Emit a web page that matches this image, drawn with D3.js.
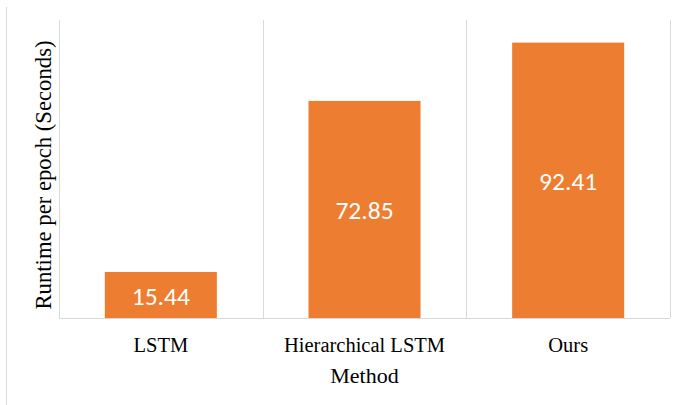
<!DOCTYPE html>
<html>
<head>
<meta charset="utf-8">
<script src="https://cdn.jsdelivr.net/npm/d3@7"></script>
<style>
	body { margin: 0; background: #fff; }
	svg { display: block; }
</style>
</head>
<body>
<svg id="chart"></svg>
<script>
const methods = ['LSTM', 'Hierarchical LSTM', 'Ours'];
const runtimes = [15.44, 72.85, 92.41];
const yDomain = [0, 100];

const W = 682;
const H = 405;
const margin = { top: 20, right: 12, bottom: 87, left: 59 };
const BAR = '#ED7D31';
const GRID = '#d9d9d9';
const SERIF = '"Liberation Serif", "Times New Roman", serif';

const $svg = d3.select('#chart').attr('width', W).attr('height', H);

const x = d3.scaleBand()
	.domain(methods)
	.range([margin.left, W - margin.right])
	.paddingInner(0)
	.paddingOuter(0);

const y = d3.scaleLinear()
	.domain(yDomain)
	.range([H - margin.bottom, margin.top]);

// outer frame edge
$svg.append('line')
	.attr('x1', 6.5).attr('x2', 6.5)
	.attr('y1', 7).attr('y2', H)
	.attr('stroke', GRID);

// vertical category dividers
const edges = methods.map(m => x(m)).concat([x.range()[1]]);
$svg.selectAll('.divider')
	.data(edges)
	.enter()
	.append('line')
	.attr('class', 'divider')
	.attr('x1', d => Math.round(d) + 0.5)
	.attr('x2', d => Math.round(d) + 0.5)
	.attr('y1', y(yDomain[1]))
	.attr('y2', y(0))
	.attr('stroke', GRID);

const barW = x.bandwidth() * 0.55;
const bars = methods.map((m, i) => ({ m, v: runtimes[i] }));

$svg.selectAll('.bar')
	.data(bars)
	.enter()
	.append('rect')
	.attr('class', 'bar')
	.attr('x', d => x(d.m) + (x.bandwidth() - barW) / 2)
	.attr('width', barW)
	.attr('y', d => y(d.v))
	.attr('height', d => y(0) - y(d.v))
	.attr('fill', BAR);

// baseline
$svg.append('line')
	.attr('x1', x.range()[0]).attr('x2', x.range()[1])
	.attr('y1', y(0) + 0.5).attr('y2', y(0) + 0.5)
	.attr('stroke', GRID);

$svg.selectAll('.val')
	.data(bars)
	.enter()
	.append('text')
	.attr('class', 'val')
	.attr('x', d => x(d.m) + x.bandwidth() / 2)
	.attr('y', d => (y(d.v) + y(0)) / 2 + 1)
	.attr('dy', '0.34em')
	.attr('text-anchor', 'middle')
	.attr('fill', '#fff')
	.style('font-family', 'Carlito, "Open Sans", sans-serif')
	.style('font-size', '25.5px')
	.text(d => d.v.toFixed(2));

// category labels
$svg.append('g')
	.attr('transform', `translate(0,${y(0)})`)
	.call(d3.axisBottom(x).tickSize(0).tickPadding(0))
	.call(g => g.select('.domain').remove())
	.call(g => g.selectAll('text')
		.attr('y', 34)
		.attr('dy', null)
		.attr('fill', '#000')
		.style('font-family', SERIF)
		.style('font-size', '20.5px'));

$svg.append('text')
	.attr('x', (x.range()[0] + x.range()[1]) / 2)
	.attr('y', 383)
	.attr('text-anchor', 'middle')
	.style('font-family', SERIF)
	.style('font-size', '22px')
	.text('Method');

$svg.append('text')
	.attr('transform', 'translate(51,175) rotate(-90)')
	.attr('text-anchor', 'middle')
	.style('font-family', SERIF)
	.style('font-size', '22.7px')
	.text('Runtime per epoch (Seconds)');
</script>
</body>
</html>
